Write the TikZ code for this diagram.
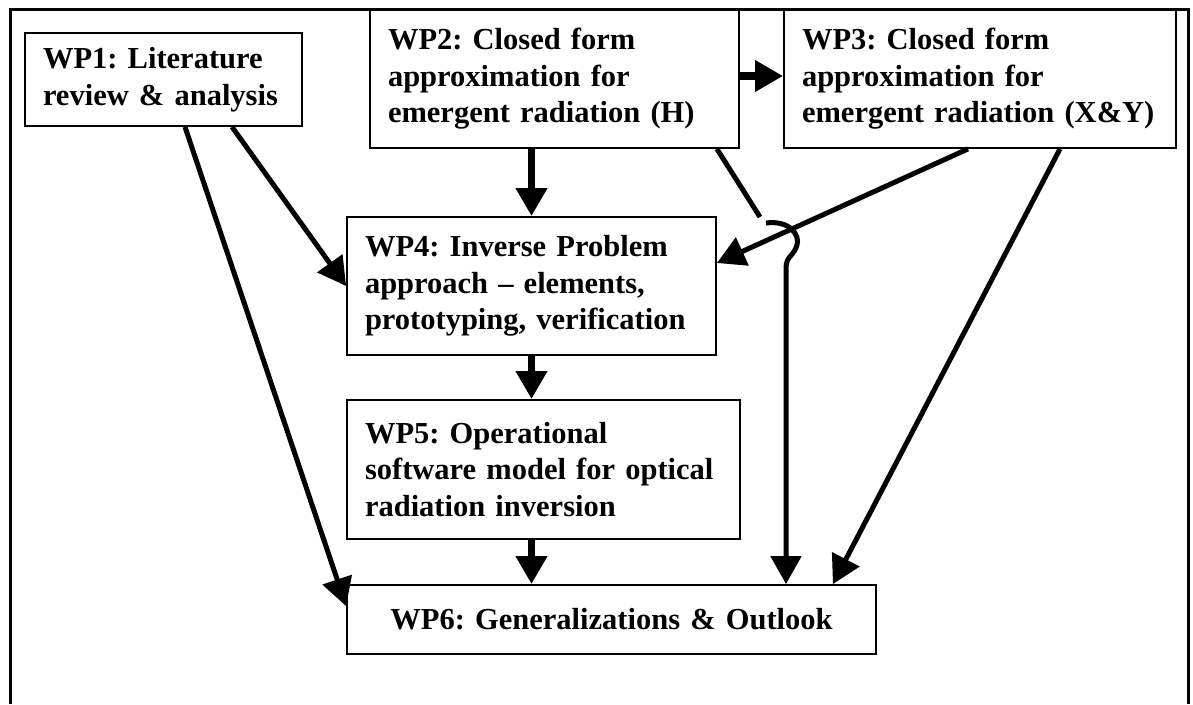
\documentclass[tikz,border=0pt]{standalone}
\usepackage{fontspec}
\setmainfont{Liberation Serif}
\usetikzlibrary{arrows.meta}
\tikzset{
  wpbox/.style={draw, rectangle, line width=1.8pt, inner xsep=18pt, inner ysep=0pt,
    align=left, font=\bfseries\frenchspacing\fontsize{30.5}{36.5}\selectfont},
  link/.style={line width=5pt},
  flow/.style={link, -{Triangle[width=30pt,length=28pt]}},
  flowthick/.style={flow, line width=7.5pt},
}
\begin{document}
\begin{tikzpicture}[x=1pt, y=-1pt]
  \useasboundingbox (0,0) rectangle (1193,704);
  \draw[line width=3pt] (10,704) -- (10,9) -- (1188,9) -- (1188,704);

  \node[wpbox, text width=241pt, minimum height=93pt] (wp1) at (163.5,79.5)
    {WP1: Literature\\review \& analysis};
  \node[wpbox, text width=333pt, minimum height=138pt] (wp2) at (554.5,79)
    {WP2: Closed form\\approximation for\\emergent radiation (H)};
  \node[wpbox, text width=356pt, minimum height=138pt] (wp3) at (980,79)
    {WP3: Closed form\\approximation for\\\mbox{emergent radiation (X\&Y)}};
  \node[wpbox, text width=333pt, minimum height=138pt] (wp4) at (531.5,286)
    {WP4: Inverse Problem\\approach -- elements,\\\mbox{prototyping, verification}};
  \node[wpbox, text width=357pt, minimum height=139pt] (wp5) at (543.5,469.5)
    {WP5: Operational\\\mbox{software model for optical}\\radiation inversion};
  \node[wpbox, text width=493pt, minimum height=69pt, align=center] (wp6) at (611.5,619.5)
    {WP6: Generalizations \& Outlook};

  % flows between work packages
  \draw[flow] ([xshift=21.5pt]wp1.south) -- ([yshift=-22pt]wp6.north west);
  \draw[flow] ([xshift=68.5pt]wp1.south) -- (wp4.west);
  \draw[flowthick] ([yshift=3pt]wp2.east) -- ([yshift=3pt]wp3.west);
  \draw[flowthick] (wp4.north |- wp2.south) -- (wp4.north);
  \draw[flowthick] (wp4.south) -- (wp4.south |- wp5.north);
  \draw[flowthick] (wp4.south |- wp5.south) -- (wp4.south |- wp6.north);
  \draw[flow] ([xshift=-12pt]wp3.south) -- ([yshift=23pt]wp4.east);
  \draw[flow] ([xshift=80pt]wp3.south) -- ([xshift=-44pt]wp6.north east);

  % WP2 to WP6, hopping over the WP3 line
  \coordinate (gapend) at (760,217);
  \coordinate (hopstart) at (766,223);
  \coordinate (hopend) at (786,268);
  \draw[link] ([xshift=-23pt]wp2.south east) -- (gapend);
  \draw[flow] (hopstart) .. controls (790,220) and (800,235) .. (797,245)
    .. controls (794,256) and (786,256) .. (hopend) -- (hopend |- wp6.north);
\end{tikzpicture}
\end{document}
